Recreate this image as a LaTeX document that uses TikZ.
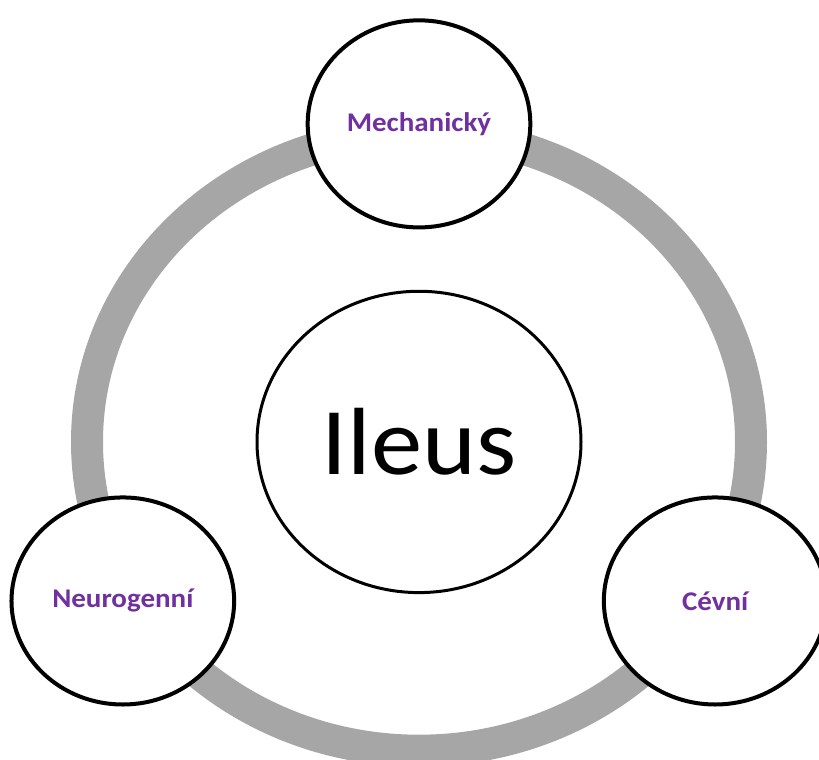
\documentclass[tikz,border=0pt]{standalone}
\usepackage{fontspec}
\setmainfont{Carlito}
\usetikzlibrary{calc}
\definecolor{ringgray}{HTML}{A6A6A6}
\definecolor{labelpurple}{HTML}{7030A0}
\tikzset{
    kind/.style={circle, draw=black, line width=3pt, fill=white, minimum size=167pt, inner sep=0pt,
        font=\bfseries\fontsize{21.75}{26}\selectfont, text=labelpurple},
    hub/.style={circle, draw=black, line width=2.25pt, fill=white, minimum size=243pt, inner sep=0pt,
        font=\fontsize{77}{90}\selectfont},
    ring/.style={draw=ringgray, line width=24pt}
}
\begin{document}
\begin{tikzpicture}[x=0.75pt, y=0.75pt, yscale=0.93, transform shape]
                \useasboundingbox (0,0) rectangle (819,817.2);
                \coordinate (mid) at (419,342);
                \draw[ring] (mid) circle (332);
                \node[hub] (ileus) at (mid) {Ileus};
                \foreach \name/\ang/\txt in {mech/90/Mechanický,neuro/210/Neurogenní,cevni/330/Cévní}
                {
                    \node[kind] (\name) at ($(mid)+(\ang:342)$) {\txt};
                }
            \end{tikzpicture}
\end{document}
